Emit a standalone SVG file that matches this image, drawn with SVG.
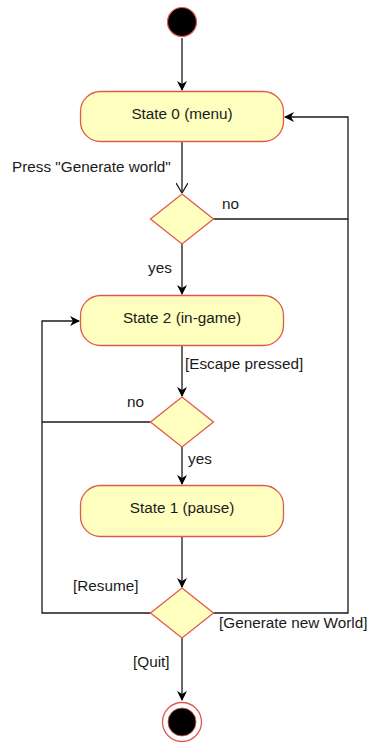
<svg xmlns="http://www.w3.org/2000/svg" width="370" height="743" viewBox="0 0 370 743">
<style>
.node{fill:#ffffc0;stroke:#e0584e;stroke-width:1.3}
.edge{fill:none;stroke:#1a1a1a;stroke-width:1.3}
text{font-family:"Liberation Sans",Arial,sans-serif;font-size:15.3px;fill:#1a1a1a}
.c{text-anchor:middle}
</style>
<defs>
<marker id="arr" viewBox="0 0 10 10" refX="9" refY="5" markerWidth="10" markerHeight="10" markerUnits="userSpaceOnUse" orient="auto">
<path d="M0,0 L10,5 L0,10 L3,5 Z" fill="#000"/>
</marker>
<marker id="open" viewBox="0 0 10 12" refX="10" refY="6" markerWidth="10" markerHeight="12" markerUnits="userSpaceOnUse" orient="auto">
<path d="M0,0 L10,6 L0,12" fill="none" stroke="#1a1a1a" stroke-width="1.3"/>
</marker>
</defs>
<g id="connectors">
<path class="edge" d="M182,38 L182,90" marker-end="url(#arr)"/>
<path class="edge" d="M182,142 L182,193" marker-end="url(#open)"/>
<path class="edge" d="M213.5,219 L348,219 L348,117 L285,117" marker-end="url(#arr)"/>
<path class="edge" d="M182,244 L182,294" marker-end="url(#arr)"/>
<path class="edge" d="M182,346 L182,396" marker-end="url(#arr)"/>
<path class="edge" d="M150.5,422 L42,422"/>
<path class="edge" d="M182,447 L182,484" marker-end="url(#arr)"/>
<path class="edge" d="M182,537 L182,587" marker-end="url(#arr)"/>
<path class="edge" d="M150.5,613 L42,613 L42,321 L79,321" marker-end="url(#arr)"/>
<path class="edge" d="M213.5,613 L348,613 L348,219"/>
<path class="edge" d="M182,638 L182,700" marker-end="url(#arr)"/>
</g>
<g id="start">
<circle cx="182" cy="22" r="14.5" fill="#000" stroke="#e0584e" stroke-width="1.2"/>
</g>
<g id="state0">
<rect class="node" x="80.5" y="91.5" width="203" height="50" rx="20"/>
<text class="c" x="182" y="119">State 0 (menu)</text>
</g>
<g id="decision1">
<polygon class="node" points="182,194 213.5,219 182,244 150.5,219"/>
</g>
<g id="state2">
<rect class="node" x="80.5" y="295.5" width="203" height="50" rx="20"/>
<text class="c" x="182" y="323">State 2 (in-game)</text>
</g>
<g id="decision2">
<polygon class="node" points="182,397 213.5,422 182,447 150.5,422"/>
</g>
<g id="state1">
<rect class="node" x="80.5" y="485.5" width="203" height="51" rx="20"/>
<text class="c" x="182" y="513">State 1 (pause)</text>
</g>
<g id="decision3">
<polygon class="node" points="182,588 213.5,613 182,638 150.5,613"/>
</g>
<g id="end">
<circle cx="182" cy="722" r="19.5" fill="#fff" stroke="#e0584e" stroke-width="1.3"/>
<circle cx="182" cy="722" r="14" fill="#000" stroke="#e0584e" stroke-width="0.8"/>
</g>
<g id="labels">
<text x="12" y="172">Press "Generate world"</text>
<text x="222" y="209">no</text>
<text x="148" y="273">yes</text>
<text x="185" y="369">[Escape pressed]</text>
<text x="127" y="407">no</text>
<text x="188" y="464">yes</text>
<text x="73" y="591">[Resume]</text>
<text x="219" y="628">[Generate new World]</text>
<text x="133" y="667">[Quit]</text>
</g>
</svg>
